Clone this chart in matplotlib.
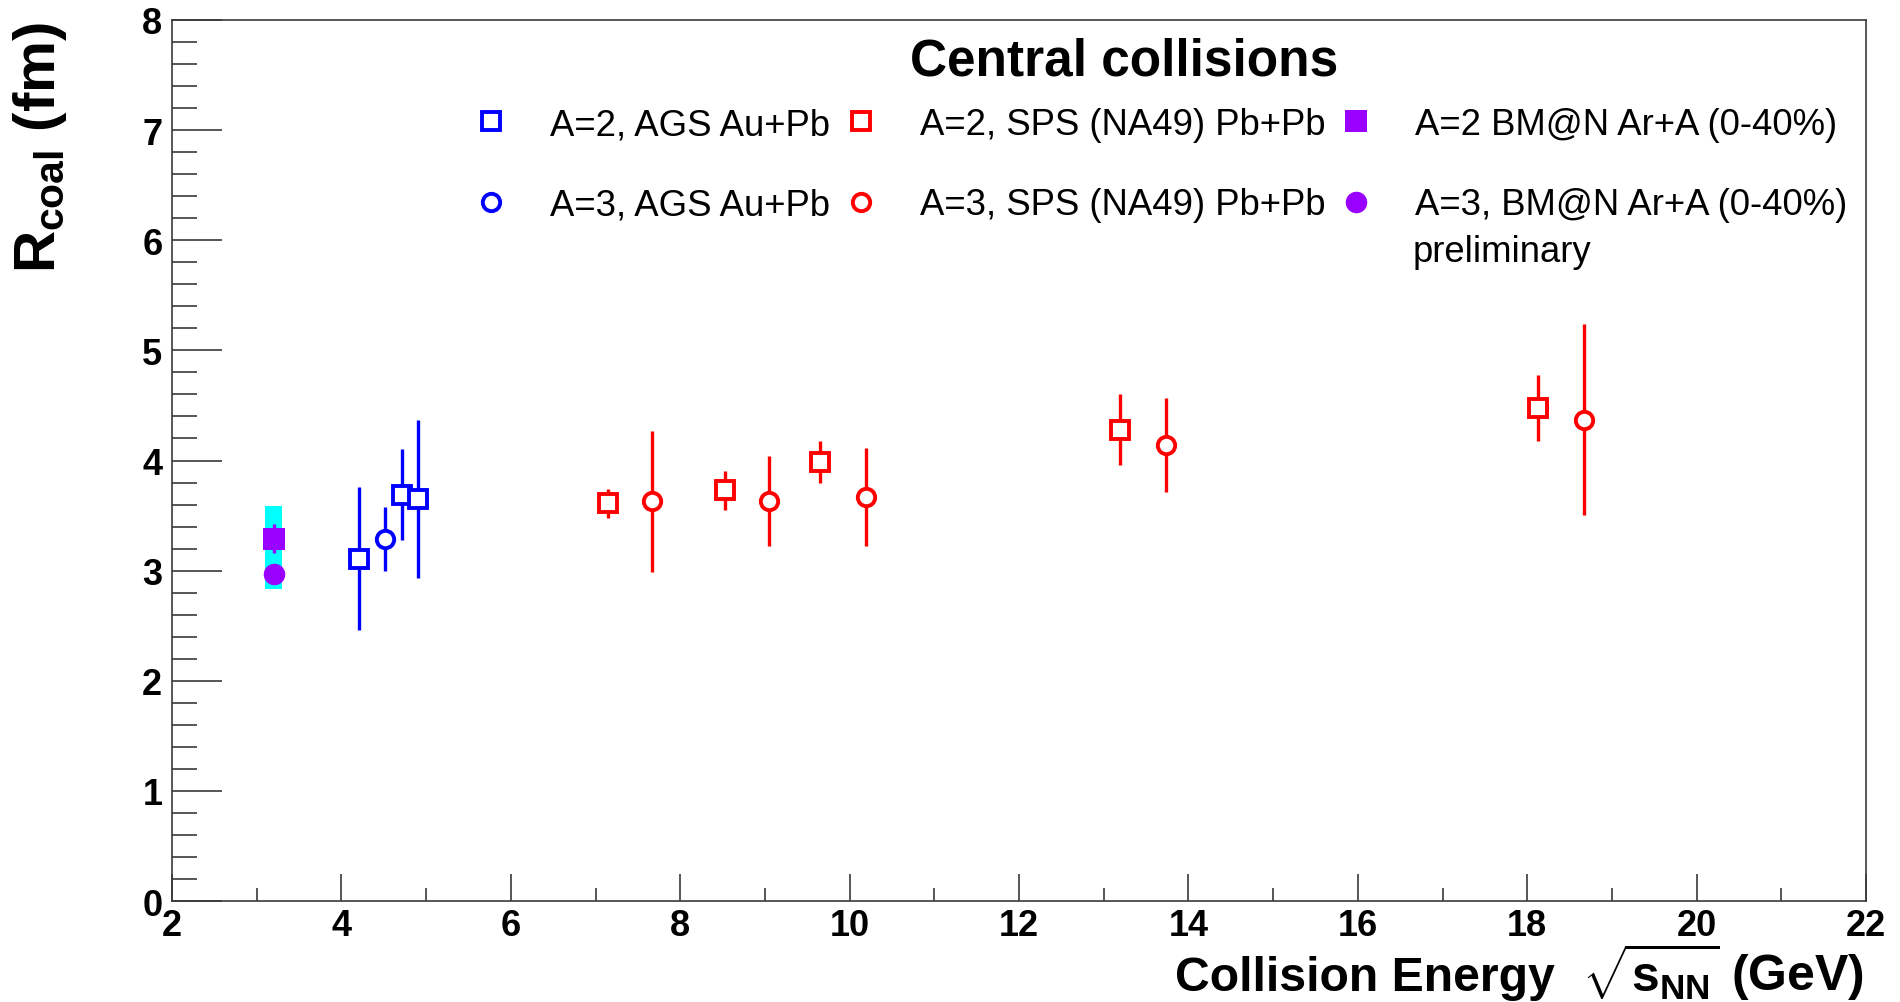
import matplotlib
matplotlib.use("Agg")
import matplotlib.pyplot as plt
from matplotlib.lines import Line2D
from matplotlib.ticker import MultipleLocator

plt.rcParams['font.family'] = ['Liberation Sans', 'DejaVu Sans']
plt.rcParams['mathtext.fontset'] = 'custom'
plt.rcParams['mathtext.rm'] = 'Liberation Sans:bold'
plt.rcParams['mathtext.it'] = 'Liberation Sans:bold'
plt.rcParams['mathtext.bf'] = 'Liberation Sans:bold'

# ---- data ----
ags_d_x = [4.21, 4.71, 4.91]
ags_d_y = [3.11, 3.69, 3.65]
ags_d_err = [0.65, 0.41, 0.72]

ags_t_x = [4.52]
ags_t_y = [3.29]
ags_t_err = [0.29]

sps_d_x = [7.15, 8.53, 9.65, 13.19, 18.13]
sps_d_y = [3.61, 3.73, 3.99, 4.28, 4.48]
sps_d_err = [0.13, 0.175, 0.19, 0.325, 0.30]

sps_t_x = [7.67, 9.05, 10.19, 13.74, 18.67]
sps_t_y = [3.63, 3.63, 3.67, 4.14, 4.37]
sps_t_err = [0.64, 0.41, 0.445, 0.43, 0.865]

bmn_d_x = [3.2]
bmn_d_y = [3.29]
bmn_d_stat = [0.13]
bmn_d_sys = [0.30]

bmn_t_x = [3.2]
bmn_t_y = [2.97]
bmn_t_stat = [0.0]
bmn_t_sys = [0.14]

labels = ["A=2, AGS Au+Pb", "A=3, AGS Au+Pb",
          "A=2, SPS (NA49) Pb+Pb", "A=3, SPS (NA49) Pb+Pb",
          "A=2 BM@N Ar+A (0-40%)", "A=3, BM@N Ar+A (0-40%)"]

W, H = 1900, 1003
fig = plt.figure(figsize=(19, 10.03), dpi=100)
ax = fig.add_axes([172 / W, 1 - 902 / H, (1866 - 172) / W, (902 - 21) / H])

blue = '#0000ff'
red = '#ff0000'
violet = '#9900ff'
cyan = '#00ffff'

ms_open = 12.5
mew = 2.8
elw = 2.4

# systematic bands for BM@N
ax.bar(bmn_d_x, [2 * s for s in bmn_d_sys],
       bottom=[y - s for y, s in zip(bmn_d_y, bmn_d_sys)],
       width=0.2, color=cyan, zorder=2, linewidth=0)
ax.bar(bmn_t_x, [2 * s for s in bmn_t_sys],
       bottom=[y - s for y, s in zip(bmn_t_y, bmn_t_sys)],
       width=0.2, color=cyan, zorder=2, linewidth=0)

def open_series(x, y, e, color, marker):
    ax.errorbar(x, y, yerr=e, fmt=marker, color=color, mfc='white', mec=color,
                ms=ms_open, mew=mew, elinewidth=elw, capsize=0, zorder=4)

open_series(ags_d_x, ags_d_y, ags_d_err, blue, 's')
open_series(ags_t_x, ags_t_y, ags_t_err, blue, 'o')
open_series(sps_d_x, sps_d_y, sps_d_err, red, 's')
open_series(sps_t_x, sps_t_y, sps_t_err, red, 'o')

ax.errorbar(bmn_d_x, bmn_d_y, yerr=bmn_d_stat, fmt='s', color=violet, mec=violet,
            mfc=violet, ms=15.5, mew=0, elinewidth=elw, capsize=0, zorder=5)
ax.errorbar(bmn_t_x, bmn_t_y, yerr=bmn_t_stat, fmt='o', color=violet, mec=violet,
            mfc=violet, ms=15.5, mew=0, elinewidth=elw, capsize=0, zorder=5)

ax.set_xlim(2, 22)
ax.set_ylim(0, 8)

ax.xaxis.set_major_locator(MultipleLocator(2))
ax.xaxis.set_minor_locator(MultipleLocator(1))
ax.yaxis.set_major_locator(MultipleLocator(1))
ax.yaxis.set_minor_locator(MultipleLocator(0.2))

axcol = '#3a3a3a'
for sp in ax.spines.values():
    sp.set_color(axcol)
    sp.set_linewidth(1.2)

ax.tick_params(axis='both', which='both', direction='in', colors=axcol,
               width=1.2, top=False, right=False, labelcolor='black')
ax.tick_params(axis='x', which='major', length=19.5, pad=5)
ax.tick_params(axis='x', which='minor', length=9.5)
ax.tick_params(axis='y', which='major', length=36, pad=7)
ax.tick_params(axis='y', which='minor', length=18)
for lab in ax.get_xticklabels() + ax.get_yticklabels():
    lab.set_fontsize(26)
    lab.set_fontweight('bold')

# axis titles
fig.text(1555 / W, 1 - 991 / H, 'Collision Energy',
         ha='right', va='baseline', fontsize=34.7, fontweight='bold')
fig.text(1864 / W, 1 - 991 / H, r'$\sqrt{s_{NN}}$ (GeV)',
         ha='right', va='baseline', fontsize=36, fontweight='bold')
fig.text(40 / W, 1 - 22 / H, r'$R_{coal}$ (fm)', rotation=90,
         ha='center', va='top', fontsize=42, fontweight='bold')

# legend
handles = [
    Line2D([], [], ls='none', marker='s', color=blue, mfc='white', ms=ms_open, mew=mew),
    Line2D([], [], ls='none', marker='o', color=blue, mfc='white', ms=ms_open, mew=mew),
    Line2D([], [], ls='none', marker='s', color=red, mfc='white', ms=ms_open, mew=mew),
    Line2D([], [], ls='none', marker='o', color=red, mfc='white', ms=ms_open, mew=mew),
    Line2D([], [], ls='none', marker='s', color=violet, ms=15.5, mew=0),
    Line2D([], [], ls='none', marker='o', color=violet, ms=15.5, mew=0),
]
leg = ax.legend(handles, labels, ncol=3, frameon=False,
                loc='upper left', bbox_to_anchor=(473 / W, 1 - 108 / H),
                bbox_transform=fig.transFigure, borderaxespad=0, borderpad=0,
                fontsize=26.3, handlelength=1.0, handletextpad=1.1,
                columnspacing=0.36, labelspacing=1.24)

fig.text(1124 / W, 1 - 62 / H, 'Central collisions', ha='center', va='center',
         fontsize=37, fontweight='bold')
fig.text(1413 / W, 1 - 253 / H, 'preliminary', ha='left', va='center',
         fontsize=26.3)

fig.savefig('out.png', dpi=100)
